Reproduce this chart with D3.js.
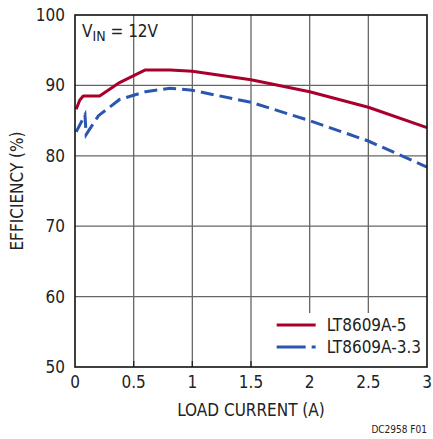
<!DOCTYPE html>
<html>
<head>
<meta charset="utf-8">
<script src="https://cdn.jsdelivr.net/npm/d3@7"></script>
<style>
  body { margin: 0; background: #fff; }
  svg text { font-family: "Liberation Sans Narrow", "DejaVu Sans Condensed", sans-serif; fill: #222; }
</style>
</head>
<body>
<div id="chart"></div>
<script>
// load current (A) and efficiency (%)
var currentA = [0.01, 0.04, 0.07, 0.21, 0.38, 0.6, 0.81, 1.0, 1.5, 2.0, 2.5, 3.0];
var effFive  = [86.6, 87.9, 88.5, 88.5, 90.4, 92.2, 92.2, 92.0, 90.8, 89.1, 86.9, 84.0];
var currentB = [0.01, 0.085, 0.095, 0.2, 0.38, 0.6, 0.81, 1.0, 1.5, 2.0, 2.5, 3.0];
var effThree = [83.4, 85.8, 83.0, 85.7, 88.0, 89.1, 89.6, 89.3, 87.6, 85.0, 82.1, 78.4];
var xTicks = [0, 0.5, 1, 1.5, 2, 2.5, 3];
var xTickLabels = ["0", "0.5", "1", "1.5", "2", "2.5", "3"];
var yTicks = [50, 60, 70, 80, 90, 100];
var seriesNames = ["LT8609A-5", "LT8609A-3.3"];

var W = 433, H = 439;
var margin = {top: 15, right: 6, bottom: 72, left: 75};
var width = W - margin.left - margin.right,
    height = H - margin.top - margin.bottom;

var svg = d3.select("#chart").append("svg")
  .attr("width", W).attr("height", H);
var g = svg.append("g")
  .attr("transform", "translate(" + margin.left + "," + margin.top + ")");

var x = d3.scaleLinear().domain([0, 3]).range([0, width]);
var y = d3.scaleLinear().domain([50, 100]).range([height, 0]);

// grid
g.selectAll(".vg").data(xTicks.slice(1, -1)).enter().append("line")
  .attr("x1", d => x(d)).attr("x2", d => x(d))
  .attr("y1", 0).attr("y2", height)
  .attr("stroke", "#666").attr("stroke-width", 1.3);
g.selectAll(".hg").data(yTicks.slice(1, -1)).enter().append("line")
  .attr("x1", 0).attr("x2", width)
  .attr("y1", d => y(d)).attr("y2", d => y(d))
  .attr("stroke", "#666").attr("stroke-width", 1.3);

// tick marks along bottom
g.selectAll(".tk").data(xTicks.slice(1, -1)).enter().append("line")
  .attr("x1", d => x(d)).attr("x2", d => x(d))
  .attr("y1", height - 6).attr("y2", height)
  .attr("stroke", "#222").attr("stroke-width", 1.3);

var line = d3.line().x(d => x(d[0])).y(d => y(d[1]));

g.append("path")
  .datum(d3.zip(currentA, effFive))
  .attr("d", line).attr("fill", "none")
  .attr("stroke", "#a8002a").attr("stroke-width", 3)
  .attr("stroke-linejoin", "round");

g.append("path")
  .datum(d3.zip(currentB, effThree))
  .attr("d", line).attr("fill", "none")
  .attr("stroke", "#2a56b0").attr("stroke-width", 3)
  .attr("stroke-dasharray", "13,6");

// legend
var lg = g.append("g").attr("transform", "translate(" + (x(2) - 39) + "," + (y(50) - 54) + ")");
lg.append("rect").attr("width", width - x(2) + 39).attr("height", 54).attr("fill", "#fff");
lg.append("line").attr("x1", 6).attr("x2", 45).attr("y1", 12).attr("y2", 12)
  .attr("stroke", "#a8002a").attr("stroke-width", 3);
lg.append("line").attr("x1", 6).attr("x2", 45).attr("y1", 34).attr("y2", 34)
  .attr("stroke", "#2a56b0").attr("stroke-width", 3).attr("stroke-dasharray", "29,6");
lg.selectAll(".lt").data(seriesNames).enter().append("text")
  .attr("x", 56).attr("y", (d, i) => 18 + i * 22)
  .attr("font-size", 17).text(d => d);

// frame
g.append("rect").attr("width", width).attr("height", height)
  .attr("fill", "none").attr("stroke", "#111").attr("stroke-width", 1.6);

// tick labels
g.selectAll(".xl").data(xTicks).enter().append("text")
  .attr("x", d => x(d)).attr("y", height + 21)
  .attr("text-anchor", "middle").attr("font-size", 17)
  .text((d, i) => xTickLabels[i]);
g.selectAll(".yl").data(yTicks).enter().append("text")
  .attr("x", -10).attr("y", d => y(d) + 6)
  .attr("text-anchor", "end").attr("font-size", 17)
  .text(d => d);

// axis titles
g.append("text").attr("x", width / 2).attr("y", height + 49)
  .attr("text-anchor", "middle").attr("font-size", 17).text("LOAD CURRENT (A)");
g.append("text")
  .attr("transform", "translate(-52," + (height / 2) + ") rotate(-90)")
  .attr("text-anchor", "middle").attr("font-size", 17).text("EFFICIENCY (%)");

// condition note
var vt = g.append("text").attr("x", 7).attr("y", 22).attr("font-size", 17);
vt.append("tspan").text("V");
vt.append("tspan").attr("font-size", 14).attr("dy", 4).text("IN");
vt.append("tspan").attr("dy", -4).text(" = 12V");

svg.append("text").attr("x", W - 6).attr("y", 433)
  .attr("text-anchor", "end").attr("font-size", 10).text("DC2958 F01");
</script>
</body>
</html>
